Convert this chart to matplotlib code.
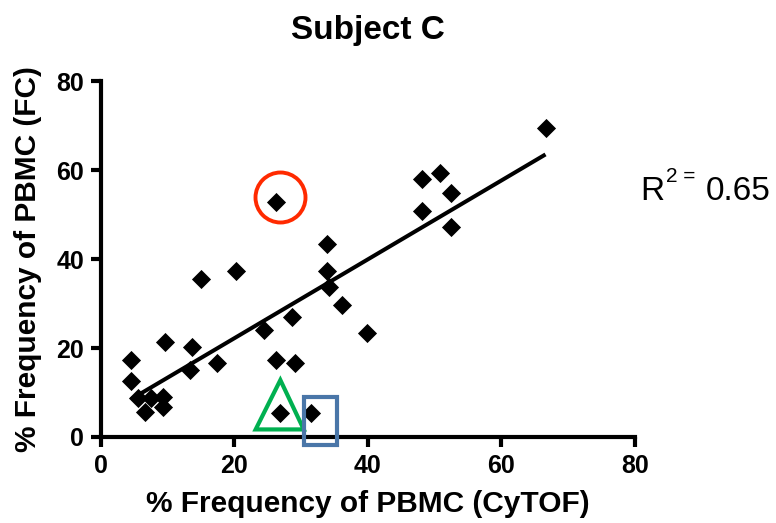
import numpy as np
import matplotlib
matplotlib.use("Agg")
import matplotlib.pyplot as plt
from matplotlib.patches import Polygon, Rectangle

plt.rcParams["font.family"] = ["Liberation Sans", "DejaVu Sans"]

# % frequency of PBMC measured by CyTOF (x) and by flow cytometry (y)
cytof = [4.55, 4.55, 5.6, 6.6, 7.6, 9.4, 9.4, 9.65, 13.6, 13.4, 15.0, 17.4,
         20.3, 24.5, 26.3, 26.3, 26.8, 28.7, 29.1, 31.5, 33.9, 33.9, 34.2,
         36.2, 39.8, 48.1, 48.1, 50.8, 52.5, 52.5, 66.6]
fc = [17.3, 12.6, 8.7, 5.7, 8.7, 9.1, 6.8, 21.4, 20.3, 15.1, 35.6, 16.7,
      37.4, 24.0, 52.9, 17.3, 5.5, 26.9, 16.6, 5.5, 43.4, 37.4, 33.6,
      29.7, 23.3, 57.9, 50.8, 59.4, 54.9, 47.3, 69.4]

ticks = [0, 20, 40, 60, 80]
r_squared = "0.65"

x = np.array(cytof)
y = np.array(fc)

fig = plt.figure(figsize=(7.76, 5.23), dpi=100)
ax = fig.add_axes([100.7 / 776, 1 - 437 / 523, (635 - 100.7) / 776, (437 - 81) / 523])

ax.scatter(x, y, marker="D", s=95, color="black", zorder=3, linewidths=0)

# least-squares line over the observed range
slope, intercept = np.polyfit(x, y, 1)
xs = np.array([x.min(), x.max()])
ax.plot(xs, slope * xs + intercept, color="black", lw=2.9, zorder=2,
        solid_capstyle="butt")

ax.set_xlim(0, 80)
ax.set_ylim(0, 80)
ax.set_xticks(ticks)
ax.set_yticks(ticks)
for s in ["top", "right"]:
    ax.spines[s].set_visible(False)
for s in ["left", "bottom"]:
    ax.spines[s].set_linewidth(3)
ax.tick_params(width=3, length=7, labelsize=18, pad=5)
for lab in ax.get_xticklabels() + ax.get_yticklabels():
    lab.set_fontweight("bold")

ax.set_xlabel("% Frequency of PBMC (CyTOF)", fontsize=21.5, fontweight="bold", labelpad=9)
ax.set_ylabel("% Frequency of PBMC (FC)", fontsize=21.5, fontweight="bold", labelpad=10)
ax.set_title("Subject C", fontsize=24, fontweight="bold", pad=30)

# highlighted points
ax.plot([26.9], [54.0], marker="o", ms=36, mfc="none", mec="#FF2A00", mew=2.8,
        clip_on=False, zorder=4)
ax.add_patch(Polygon([[26.9, 12.8], [23.2, 1.7], [30.4, 1.7]], closed=True,
                     fill=False, edgecolor="#00B050", lw=3, clip_on=False, zorder=4))
ax.add_patch(Rectangle((30.4, -1.8), 5.0, 10.9, fill=False, edgecolor="#4A76A8",
                       lw=3, clip_on=False, zorder=4))

# coefficient of determination
fig.text(640 / 776, 1 - 200 / 523, "R", fontsize=24, ha="left", va="baseline")
fig.text(666 / 776, 1 - 182 / 523, "2 =", fontsize=15, ha="left", va="baseline")
fig.text(706 / 776, 1 - 200 / 523, r_squared, fontsize=24, ha="left", va="baseline")

fig.savefig("out.png", dpi=100)
